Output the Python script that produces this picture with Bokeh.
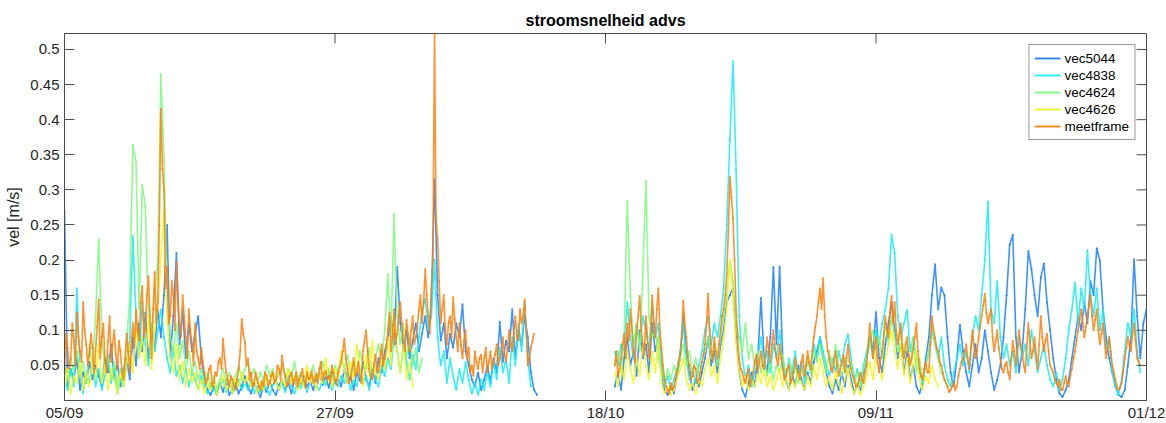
import numpy as np
from bokeh.plotting import figure
from bokeh.models import Range1d, FixedTicker
from bokeh.embed import file_html
from bokeh.resources import INLINE

# time axis in days since 05/09; two deployments with a gap in between
seg_starts = [0.0, 44.25]
step_vec = 0.25      # sample spacing of the ADV records (days)
step_frame = 0.125   # sample spacing of the measuring frame (days)

x_min, x_max = 0.0, 87.0
y_min, y_max = 0.0, 0.5227
x_ticks = [0.0, 21.75, 43.5, 65.25, 87.0]
x_tick_labels = ["05/09", "27/09", "18/10", "09/11", "01/12"]
y_ticks = [0.05, 0.1, 0.15, 0.2, 0.25, 0.3, 0.35, 0.4, 0.45, 0.5]
y_tick_labels = ["0.05", "0.1", "0.15", "0.2", "0.25", "0.3", "0.35", "0.4", "0.45", "0.5"]

# flow speed in mm/s, first and second deployment
vec5044_a = [270,20,45,30,60,15,40,25,55,30,50,35,20,60,40,80,30,55,20,45,
             60,30,90,50,110,70,125,60,100,75,130,90,
             150,250,60,120,210,80,130,60,110,70,95,120,60,
             30,15,8,20,10,25,12,30,8,15,25,10,20,35,
             20,10,25,15,5,20,12,28,15,8,22,30,15,25,10,30,18,25,35,20,28,15,30,40,22,35,18,40,25,32,20,
             45,25,35,15,40,28,55,30,20,45,25,60,40,70,
             90,120,80,190,110,75,100,60,85,110,70,95,
             120,90,140,315,150,85,110,60,95,75,110,90,137,70,50,30,
             20,40,15,30,50,25,60,40,112,55,85,70,130,60,100,80,120,90,40,15,8]
vec5044_b = [20,40,15,60,90,50,70,35,100,60,80,40,110,70,90,40,15,8,20,10,35,60,
             120,70,40,15,30,20,40,60,90,50,70,40,80,100,
             140,150,160,90,40,15,5,25,40,20,60,
             146,60,40,90,190,80,191,60,30,15,40,20,50,30,15,40,25,55,70,
             90,60,40,20,10,30,15,40,20,50,30,10,25,15,40,60,90,70,126,60,40,80,
             110,140,100,60,80,40,70,30,50,20,10,25,60,90,
             150,194,130,161,150,90,40,20,60,108,70,
             40,20,50,80,40,60,100,70,40,15,30,50,90,
             150,222,236,90,40,70,130,213,187,150,120,175,195,140,100,
             60,30,10,5,15,30,60,90,120,100,140,110,170,150,217,199,130,90,60,40,
             20,8,5,15,50,90,201,120,60,110,130]

vec4838_a = [30,15,45,20,160,35,10,40,25,55,20,45,15,35,60,25,50,10,30,20,
             50,90,234,120,60,140,80,50,110,70,100,130,
             90,60,40,75,35,50,25,45,20,40,30,15,35,
             20,10,25,15,8,20,30,12,25,10,18,30,15,25,
             15,30,10,20,12,25,18,8,22,30,15,25,12,35,20,10,28,18,30,12,25,35,20,15,30,22,40,15,28,20,35,
             25,40,15,30,20,45,25,35,15,40,30,20,50,35,
             60,45,90,70,40,80,55,30,65,45,
             90,130,145,100,120,200,90,
             50,70,25,60,35,15,45,25,55,30,10,
             25,8,30,15,40,20,55,30,75,40,60,25,90,50,110,70,140,60,20]
vec4838_b = [69,50,80,70,140,90,60,110,80,120,100,70,140,90,110,50,20,35,15,30,45,70,
             110,60,30,45,25,50,70,100,120,80,110,90,120,160,
             250,371,483,330,120,60,30,50,20,40,60,
             90,50,70,40,80,60,100,50,30,60,40,70,35,55,25,60,40,80,60,
             90,70,50,35,60,40,70,50,80,94,60,30,45,25,50,70,90,60,100,80,110,130,
             160,236,210,120,90,110,129,70,90,60,40,25,50,70,
             100,80,60,90,50,30,20,40,60,80,50,
             70,40,90,120,100,150,200,283,130,110,170,90,60,
             80,50,70,40,90,60,80,50,100,70,40,60,80,50,30,
             20,40,15,30,60,100,130,168,110,160,130,214,150,120,160,100,130,70,90,40,
             20,8,30,70,110,90,130,70,40]

vec4624_a = [50,30,60,40,70,35,55,25,80,45,120,229,90,40,65,30,55,20,45,35,
             80,150,364,340,130,307,276,120,90,150,200,465,
             343,150,90,70,110,60,85,45,70,40,55,30,45,
             25,40,20,35,15,30,45,25,40,20,35,50,30,45,
             55,35,45,25,40,30,50,35,45,28,40,50,30,45,35,55,30,40,25,45,35,50,30,40,55,35,45,30,50,40,60,
             45,65,35,55,40,70,50,45,75,40,60,80,55,100,
             180,90,266,120,80,110,60,90,50,75,40,60]
vec4624_b = [50,70,40,90,284,150,80,110,70,180,313,120,90,100,60,40,25,45,30,50,35,60,
             80,50,70,40,60,35,55,70,90,60,80,50,90,120,
             150,200,170,110,90,70,110,60,80,50,70,
             40,60,35,55,30,50,40,65,35,55,30,50,25,45,35,60,40,70,55,
             80,60,40,70,45,80,50,35,60,40,55,25,40,20,45,60,80,100,70,90,60,110,
             80,120,90,70,100,60,80,50,90,40,60,30,50,70,
             110,80,60,40,30,20]

vec4626_a = [20,45,10,35,25,55,15,40,20,60,30,80,25,50,15,45,30,10,40,20,
             55,80,40,110,60,90,50,120,45,100,130,200,
             270,110,60,40,80,30,55,20,45,25,40,15,30,
             10,25,15,30,8,20,35,15,25,10,30,20,40,25,
             35,20,30,10,25,15,35,20,40,25,15,30,20,45,25,35,15,30,20,50,25,35,15,40,25,60,30,20,45,30,70,
             40,25,55,30,80,45,20,65,35,85,40,30,60,45,
             90,50,120,70,40,80,30,55,20]
vec4626_b = [40,20,50,30,70,45,25,60,35,80,50,30,70,40,90,25,10,20,8,15,30,45,
             60,30,15,25,10,30,20,45,60,35,50,25,60,90,
             130,200,150,80,40,20,35,15,30,20,40,
             25,45,20,35,15,30,45,20,35,15,30,20,40,25,15,35,20,50,30,
             60,40,20,35,15,40,25,10,30,45,20,10,25,8,20,35,55,30,70,45,30,60,
             80,100,70,45,80,35,60,25,50,70,30,15,35,25,
             50,30,20]

meetframe_a = [40,95,75,45,60,110,85,50,125,90,70,55,140,100,80,50,65,95,75,40,
               70,105,144,60,90,110,60,40,85,120,55,80,100,65,45,85,70,40,30,60,
               95,70,40,85,110,75,130,100,85,140,163,90,100,150,177,120,60,130,183,110,
               140,250,415,330,
               300,160,190,110,120,170,150,100,197,140,110,90,150,120,90,60,130,100,80,50,
               110,70,60,45,75,55,
               40,25,30,45,50,20,25,40,35,55,60,45,88,60,40,30,20,35,30,20,
               15,30,45,70,116,95,83,50,
               60,30,40,20,25,40,30,20,15,28,20,40,35,22,25,35,40,25,30,50,
               45,30,64,45,35,20,25,35,40,22,30,40,20,30,35,45,28,18,40,30,
               32,42,25,30,38,25,45,55,30,38,42,30,35,25,50,40,30,22,40,48,55,70,
               88,60,45,25,30,45,60,35,40,55,35,25,70,85,100,70,45,35,30,50,
               65,45,40,60,80,50,60,75,
               100,125,70,90,130,80,95,120,140,110,85,70,115,95,70,100,120,80,90,105,
               130,150,110,140,
               187,150,120,95,160,200,522,260,230,170,110,130,150,100,80,110,120,90,147,115,
               90,70,110,80,60,85,100,60,75,40,50,35,
               70,55,45,60,65,40,60,75,40,55,70,45,55,65,80,50,60,70,90,65,
               55,75,100,80,70,95,120,90,85,130,110,120,144,100,50,60,75,85,95]
meetframe_b = [50,70,35,45,60,80,95,60,110,85,130,100,70,55,95,120,149,100,80,65,
               120,90,60,80,150,110,90,130,160,100,75,50,30,20,15,10,25,15,20,30,
               40,55,65,90,
               142,110,90,60,50,30,35,50,45,25,30,40,55,65,80,110,152,100,70,55,
               90,70,60,80,100,120,130,150,
               180,240,319,290,260,200,130,90,60,45,40,30,25,35,45,20,30,40,55,65,
               40,55,
               70,50,45,65,90,70,55,80,100,75,60,50,80,60,45,30,35,45,50,25,
               30,40,60,45,40,30,55,65,35,50,70,55,45,70,90,105,120,140,
               160,130,174,120,90,70,60,45,40,55,70,50,35,45,55,65,40,60,80,55,
               45,35,30,20,20,30,40,30,25,40,50,80,110,85,60,75,90,55,40,60,
               70,95,120,100,
               90,125,149,110,140,100,80,95,110,75,60,80,90,65,50,60,75,90,110,70,
               45,35,30,45,55,40,40,80,
               120,100,90,75,70,55,50,40,30,25,20,12,15,20,25,15,20,35,45,55,
               60,70,
               80,60,45,75,100,80,60,70,90,105,120,135,152,125,110,120,130,90,70,85,
               100,75,60,45,40,50,
               55,40,30,60,85,70,50,75,100,80,70,50,40,75,110,85,60,70,90,65,
               45,80,120,90,70,85,95,70,50,45,
               40,30,25,20,30,15,15,25,35,25,20,35,45,60,70,85,100,115,130,110,
               90,105,120,135,150,120,100,115,130,100,80,95,110,85,60,75,90,70,50,40,
               30,20,15,18,25,40,60,75,90,80,70,95,110,85,60,55,50]

# (legend name, colour, sample spacing, [first deployment, second deployment])
series = [
    ("vec5044", "#1a80ff", step_vec, [vec5044_a, vec5044_b]),
    ("vec4838", "#14ecf5", step_vec, [vec4838_a, vec4838_b]),
    ("vec4624", "#7dfa7d", step_vec, [vec4624_a, vec4624_b]),
    ("vec4626", "#f5f51a", step_vec, [vec4626_a, vec4626_b]),
    ("meetframe", "#ff7f0a", step_frame, [meetframe_a, meetframe_b]),
]

FONT = "Liberation Sans"
AXIS_COLOR = "#4d4d4d"
TEXT_COLOR = "#262626"
TICK_PX = 10

p = figure(width=1166, height=423, output_backend="svg", toolbar_location=None,
           x_range=Range1d(x_min, x_max), y_range=Range1d(y_min, y_max),
           min_border_left=64, min_border_right=20, min_border_top=33, min_border_bottom=21,
           title="stroomsnelheid advs")
p.background_fill_color = "white"
p.border_fill_color = "white"
p.outline_line_color = AXIS_COLOR
p.xgrid.visible = False
p.ygrid.visible = False

p.title.align = "center"
p.title.text_font = FONT
p.title.text_font_size = "16px"
p.title.text_font_style = "bold"
p.title.text_color = "black"

for name, color, step, segments in series:
    for start, vals in zip(seg_starts, segments):
        t = start + step * np.arange(len(vals))
        v = np.asarray(vals, dtype=float) / 1000.0
        p.scatter(t, v, size=2, fill_color=color, line_color=None, fill_alpha=0.85)
        p.line(t, v, line_color=color, line_width=1.6, line_alpha=0.85, legend_label=name)

# axes: ticks pointing into the box, labels on the left and bottom
for ax, ticks, labels in ((p.xaxis[0], x_ticks, x_tick_labels), (p.yaxis[0], y_ticks, y_tick_labels)):
    ax.ticker = FixedTicker(ticks=ticks)
    ax.major_label_overrides = {d: s for d, s in zip(ticks, labels)}
    ax.axis_line_color = AXIS_COLOR
    ax.major_tick_line_color = AXIS_COLOR
    ax.major_tick_in = TICK_PX
    ax.major_tick_out = 0
    ax.minor_tick_line_color = None
    ax.major_label_text_font = FONT
    ax.major_label_text_font_size = "15px"
    ax.major_label_text_color = TEXT_COLOR
p.xaxis[0].major_label_standoff = 3
p.yaxis[0].major_label_standoff = 5
p.yaxis[0].axis_label = "vel [m/s]"
p.yaxis[0].axis_label_text_font = FONT
p.yaxis[0].axis_label_text_font_size = "16px"
p.yaxis[0].axis_label_text_font_style = "normal"
p.yaxis[0].axis_label_text_color = TEXT_COLOR
p.yaxis[0].axis_label_standoff = 5

# mirrored ticks on the right and top edges of the box
frame_w, frame_h = 1166 - 64 - 20, 423 - 33 - 21
dx = (x_max - x_min) * TICK_PX / frame_w
dy = (y_max - y_min) * TICK_PX / frame_h
yt = np.asarray(y_ticks)
xt = np.asarray(x_ticks)
p.segment(x0=np.full(len(yt), x_max), y0=yt, x1=np.full(len(yt), x_max - dx), y1=yt,
          line_color=AXIS_COLOR, line_width=1)
p.segment(x0=xt, y0=np.full(len(xt), y_max), x1=xt, y1=np.full(len(xt), y_max - dy),
          line_color=AXIS_COLOR, line_width=1)

lg = p.legend[0]
lg.location = "top_right"
lg.margin = 11
lg.padding = 5
lg.spacing = 1
lg.label_height = 16
lg.glyph_height = 16
lg.glyph_width = 26
lg.label_standoff = 4
lg.label_text_font = FONT
lg.label_text_font_size = "13.5px"
lg.label_text_color = "black"
lg.border_line_color = "#333333"
lg.border_line_width = 1
lg.background_fill_color = "white"
lg.background_fill_alpha = 1.0

open("out.html", "w").write(file_html(p, INLINE))
